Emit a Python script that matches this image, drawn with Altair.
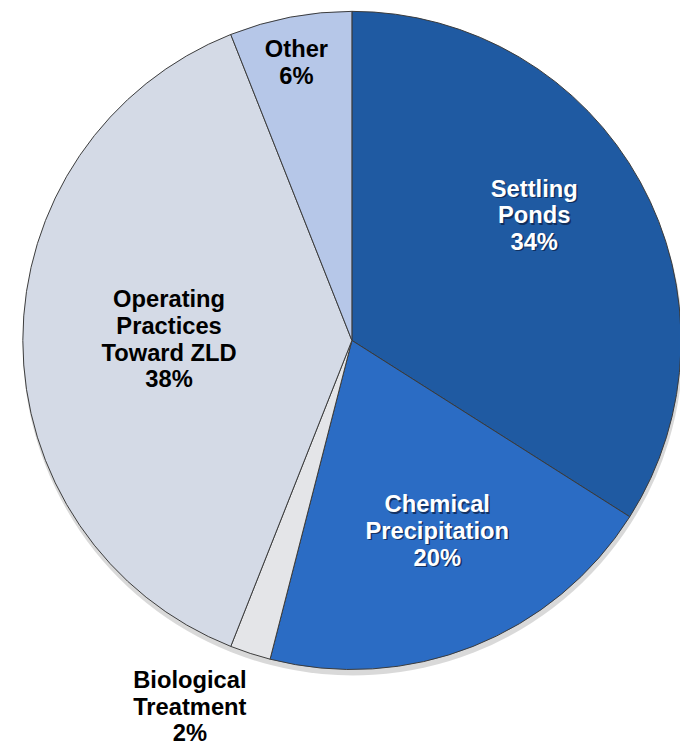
import altair as alt
import pandas as pd

# ---- data ----
categories = ["Settling Ponds", "Chemical Precipitation", "Biological Treatment",
              "Operating Practices Toward ZLD", "Other"]
labels = ["Settling\nPonds", "Chemical\nPrecipitation", "Biological\nTreatment",
          "Operating\nPractices\nToward ZLD", "Other"]
shares = [34, 20, 2, 38, 6]

df = pd.DataFrame({
    "category": categories,
    "label": labels,
    "share": shares,
    "order": list(range(len(categories))),
})

# ---- styling ----
colors = ["#1F5AA2", "#2B6CC4", "#E4E5E8", "#D4DAE6", "#B6C7E8"]
CX, CY, R = 348, 332, 333
LH = 27
# label placement: radius and angular nudge (degrees) relative to slice middle
LABEL_R = {0: 222, 1: 214, 2: 408, 3: 185, 4: 284}
LABEL_DA = {0: -5, 1: -2.2, 2: 5.7, 3: -0.6, 4: -0.6}
DARK = [0, 1]  # slices with white labels

r_expr = "[" + ",".join(str(LABEL_R[i]) for i in range(5)) + "][datum.order]"
da_expr = "[" + ",".join(str(LABEL_DA[i]) for i in range(5)) + "][datum.order]"

base = alt.Chart(df)

shadow = base.mark_arc(outerRadius=R + 1, color="#000000", opacity=0.15).encode(
    theta=alt.Theta("share:Q", stack=True),
    order=alt.Order("order:Q"),
    x=alt.value(CX + 1),
    y=alt.value(CY + 5),
)

pie = base.mark_arc(outerRadius=R, stroke="#3a3a3a", strokeWidth=1).encode(
    theta=alt.Theta("share:Q", stack=True),
    order=alt.Order("order:Q"),
    color=alt.Color("category:N", sort=categories,
                    scale=alt.Scale(domain=categories, range=colors), legend=None),
    x=alt.value(CX),
    y=alt.value(CY),
)

lab = base.transform_window(
    cum="sum(share)", sort=[alt.SortField("order")], frame=[None, 0]
).transform_joinaggregate(
    total="sum(share)"
).transform_calculate(
    ang="((datum.cum - datum.share/2)/datum.total*360 + " + da_expr + ")*PI/180",
    lr=r_expr,
    txt="datum.label + '\\n' + datum.share + '%'",
    dark="indexof([" + ",".join(str(d) for d in DARK) + "], datum.order) >= 0",
).transform_calculate(
    nl="length(split(datum.txt, '\\n'))",
).transform_calculate(
    px=f"{CX} + datum.lr*sin(datum.ang)",
    py=f"{CY} - datum.lr*cos(datum.ang) - (datum.nl - 1)*{LH}/2 - 2",
)

text_kw = dict(font="Liberation Sans", fontWeight="bold", fontSize=24,
               lineHeight=LH, lineBreak="\n", align="center", baseline="middle")

txt_shadow = lab.transform_filter("datum.dark").mark_text(
    color="#0d2147", opacity=0.75, dx=1.5, dy=1.5, **text_kw
).encode(
    x=alt.X("px:Q", scale=None), y=alt.Y("py:Q", scale=None), text="txt:N"
)

txt = lab.mark_text(**text_kw).encode(
    x=alt.X("px:Q", scale=None), y=alt.Y("py:Q", scale=None), text="txt:N",
    color=alt.condition("datum.dark", alt.value("#FFFFFF"), alt.value("#000000")),
)

chart = alt.layer(shadow, pie, txt_shadow, txt).properties(
    width=680, height=737, autosize=alt.AutoSizeParams(type="none"),
    padding=0,
).configure_view(stroke=None)

chart.save("out.html", embed_options={"renderer": "svg", "actions": False})
